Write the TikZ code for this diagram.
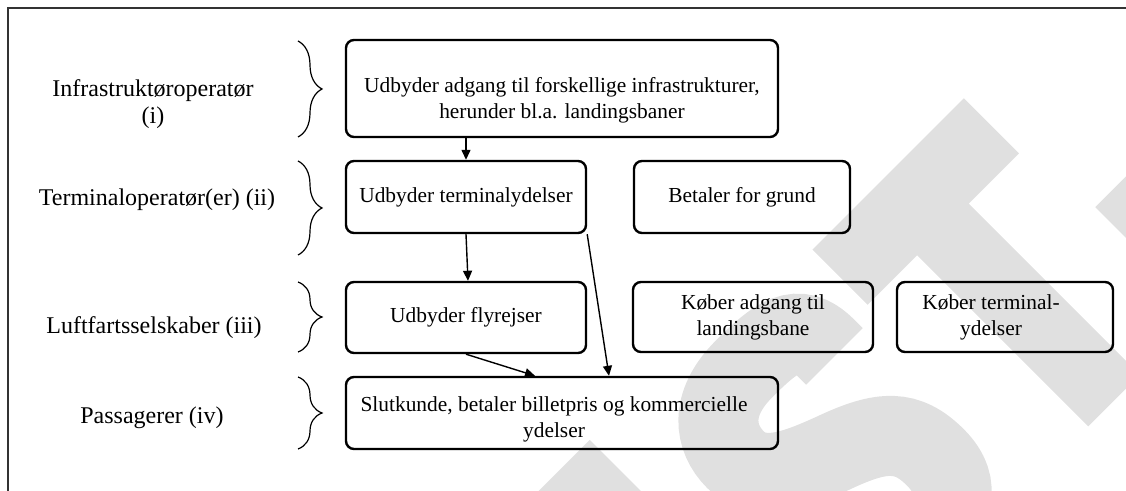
\documentclass[tikz,border=0pt]{standalone}
\usepackage{fontspec}
\setmainfont{Liberation Serif}
\usetikzlibrary{arrows.meta,decorations.pathreplacing}

\begin{document}
\begin{tikzpicture}[
  x=0.5pt, y=-0.5pt,
  font=\fontsize{12}{13.5}\selectfont,
  box/.style={draw, line width=1.2pt, rounded corners=4pt, inner sep=0pt, align=center,
    font=\fontsize{10.7}{13}\selectfont},
  txt/.style={inner sep=0pt, align=center, font=\fontsize{10.7}{13}\selectfont},
  lvl/.style={align=center, inner sep=0pt},
  arr/.style={-{Triangle[length=5pt,width=4.5pt]}, line width=0.7pt},
  brc/.style={decorate, decoration={brace, amplitude=12pt}, line width=0.6pt},
  wm/.style={fill=black!12, draw=none},
  wmline/.style={draw=black!12, line width=40pt, line cap=butt}
]
\useasboundingbox (0,0) rectangle (1126,491);

% watermark, drawn in letter coordinates turned by 45 degrees
\begin{scope}[rotate=45]
  \fill[wm] (0,728) -- (106,728) -- (106,900) -- (0,900) -- cycle;
  \draw[wmline] (338,842) -- (338,830) .. controls (338,790) and (310,787) .. (265,787)
    .. controls (215,787) and (195,815) .. (195,845) .. controls (195,880) and (230,895) .. (270,910)
    .. controls (320,928) and (338,945) .. (338,985) .. controls (338,1025) and (310,1037) .. (265,1037)
    .. controls (215,1037) and (192,1015) .. (190,985);
  \fill[wm] (398,751) -- (612,751) -- (612,829) -- (541,829) -- (541,1071) -- (468,1071)
    -- (468,829) -- (398,829) -- cycle;
  \fill[wm] (628,921) -- (720,921) -- (720,1071) -- (628,1071) -- cycle;
\end{scope}

% frame
\draw[line width=1pt, black!80] (8,491) -- (8,8) -- (1126,8);

% levels
\node[lvl] (lab-i) at (153,104) {Infrastruktøroperatør\\(i)};
\node[lvl] (lab-ii) at (157,200) {Terminaloperatør(er) (ii)};
\node[lvl] (lab-iii) at (154,328) {Luftfartsselskaber (iii)};
\node[lvl] (lab-iv) at (152,418) {Passagerer (iv)};

\draw[brc] (298,41) -- (298,137);
\draw[brc] (298,161) -- (298,255);
\draw[brc] (298,282) -- (298,352);
\draw[brc] (298,377) -- (298,449);

% boxes
\node[box, minimum width=216pt, minimum height=48.5pt] (infra) at (562,88.5) {};
\node[txt] (infra-t) at ([yshift=-5.75pt]infra.center) {Udbyder adgang til forskellige infrastrukturer,\\herunder bl.a. landingsbaner};
\node[box, minimum width=120pt, minimum height=36pt] (term) at (466,197) {Udbyder terminalydelser};
\node[box, minimum width=108pt, minimum height=36pt] (grund) at (742,197) {Betaler for grund};
\node[box, minimum width=120pt, minimum height=35.5pt] (fly) at (466,317.5) {Udbyder flyrejser};
\node[box, minimum width=120pt, minimum height=35pt] (lande) at (753,317) {Køber adgang til\\landingsbane};
\node[box, minimum width=108pt, minimum height=35pt] (kterm) at (1005,317) {};
\node[txt] (kterm-t) at ([xshift=-7pt]kterm.center) {Køber terminal-\\ydelser};
\node[box, minimum width=216pt, minimum height=36pt] (kunde) at (562,413) {};
\node[txt] (kunde-t) at ([xshift=-4pt,yshift=-3.25pt]kunde.center) {Slutkunde, betaler billetpris og kommercielle\\ydelser};

% arrows
\draw[arr] (term.north |- infra.south) -- (term.north);
\draw[arr] (term.south) -- ([xshift=1pt]fly.north);
\draw[arr] (term.south east) -- ([xshift=23.5pt]kunde.north);
\draw[arr] (fly.south) -- ([xshift=-13.5pt]kunde.north);
\end{tikzpicture}
\end{document}
